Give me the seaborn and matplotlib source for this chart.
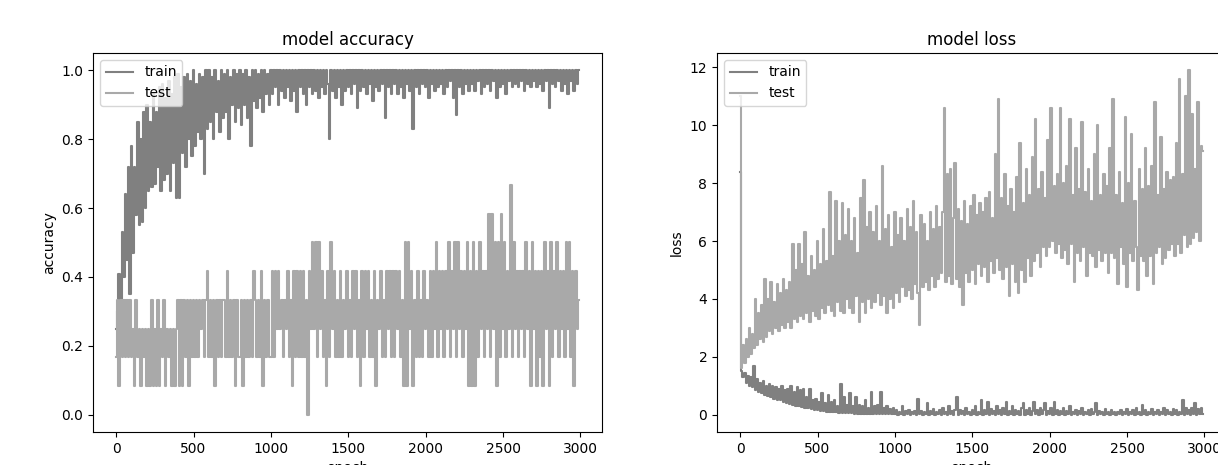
import numpy as np
import pandas as pd
import seaborn as sns
import matplotlib
matplotlib.use("Agg")
import matplotlib.pyplot as plt

epochs = list(range(0, 3000, 10))

# train accuracy in percent, one row per 100 epochs
train_acc_pct = [
    25, 30, 41, 33, 53, 40, 64, 45, 72, 35,
    78, 47, 72, 58, 85, 55, 80, 56, 88, 60,
    90, 65, 85, 66, 93, 67, 88, 72, 95, 65,
    96, 68, 92, 70, 97, 65, 93, 73, 98, 63,
    99, 63, 95, 76, 98, 72, 99, 80, 97, 75,
    100, 78, 96, 82, 99, 80, 98, 70, 100, 83,
    100, 85, 98, 80, 100, 88, 97, 82, 100, 86,
    99, 88, 100, 80, 98, 90, 100, 85, 99, 89,
    100, 84, 99, 90, 100, 86, 98, 78, 100, 91,
    100, 89, 99, 92, 100, 88, 100, 93, 99, 90,
    100, 93, 100, 95, 100, 90, 100, 94, 100, 92,
    100, 95, 100, 91, 100, 94, 100, 88, 100, 95,
    100, 93, 100, 90, 100, 95, 100, 93, 100, 94,
    100, 92, 100, 95, 100, 93, 100, 96, 80, 100,
    94, 100, 92, 100, 95, 100, 90, 100, 94, 100,
    95, 100, 93, 100, 96, 100, 89, 100, 94, 100,
    95, 100, 93, 100, 96, 100, 91, 100, 95, 100,
    94, 100, 96, 100, 86, 100, 95, 100, 93, 100,
    96, 100, 93, 100, 95, 100, 92, 100, 96, 100,
    94, 100, 83, 100, 95, 100, 93, 100, 96, 100,
    95, 100, 92, 100, 96, 100, 94, 100, 95, 100,
    96, 100, 93, 100, 95, 100, 97, 100, 92, 100,
    87, 100, 95, 100, 93, 100, 96, 100, 94, 100,
    96, 100, 94, 100, 97, 100, 93, 100, 95, 100,
    96, 100, 94, 100, 97, 100, 92, 100, 95, 100,
    96, 100, 93, 100, 97, 100, 95, 100, 96, 100,
    95, 100, 97, 100, 94, 100, 96, 100, 95, 100,
    97, 100, 95, 100, 96, 100, 94, 100, 97, 100,
    89, 100, 96, 100, 95, 100, 97, 100, 94, 100,
    96, 100, 93, 100, 97, 100, 94, 100, 96, 100,
]

# test accuracy: correct answers out of 12 test samples, one row per 100 epochs
test_size = 12
test_correct_rows = [
    "2414242424", "2314231323", "1314131413", "2413231313", "4141424142",
    "4242434245", "2424142424", "4252424142", "2414242425", "4242514242",
    "2525353424", "3524152525", "2524053636", "2635241526", "3524252435",
    "2425352415", "2535242514", "3524253525", "2535241616", "3514252425",
    "3425253625", "3525362536", "2635253615", "1615263525", "3727361627",
    "3625382635", "2535263516", "3515251635", "1625362535", "2636251534",
]
test_correct = [int(c) for row in test_correct_rows for c in row]

train_loss = [
    8.40, 1.50, 1.30, 1.45, 1.10, 1.35, 1.00, 1.30, 0.95, 1.70,
    0.85, 1.25, 0.80, 1.10, 0.75, 1.15, 0.70, 1.00, 0.65, 1.05,
    0.60, 1.00, 0.55, 0.95, 0.50, 0.90, 0.50, 1.00, 0.45, 0.85,
    0.40, 0.90, 0.38, 1.00, 0.35, 0.80, 0.32, 0.95, 0.30, 0.85,
    0.28, 0.90, 0.25, 0.60, 0.22, 0.90, 0.20, 0.50, 0.18, 0.55,
    0.15, 0.45, 0.14, 0.75, 0.12, 0.40, 0.11, 0.70, 0.10, 0.45,
    0.09, 0.50, 0.08, 0.30, 0.07, 1.05, 0.07, 0.60, 0.06, 0.35,
    0.05, 0.75, 0.05, 0.30, 0.04, 0.60, 0.04, 0.35, 0.04, 0.30,
    0.03, 0.50, 0.03, 0.25, 0.03, 0.80, 0.02, 0.30, 0.02, 0.35,
    0.02, 0.80, 0.02, 0.25, 0.02, 0.30, 0.01, 0.20, 0.01, 0.25,
    0.01, 0.15, 0.00, 0.10, 0.01, 0.30, 0.00, 0.12, 0.01, 0.15,
    0.00, 0.10, 0.01, 0.14, 0.00, 0.55, 0.01, 0.12, 0.00, 0.10,
    0.01, 0.40, 0.00, 0.12, 0.01, 0.20, 0.00, 0.10, 0.01, 0.15,
    0.00, 0.25, 0.01, 0.10, 0.00, 0.30, 0.01, 0.12, 0.00, 0.15,
    0.60, 0.00, 0.15, 0.01, 0.12, 0.00, 0.25, 0.01, 0.10, 0.00,
    0.15, 0.01, 0.30, 0.00, 0.10, 0.01, 0.50, 0.00, 0.15, 0.01,
    0.45, 0.00, 0.20, 0.01, 0.12, 0.00, 0.30, 0.01, 0.15, 0.00,
    0.25, 0.01, 0.45, 0.00, 0.12, 0.01, 0.30, 0.00, 0.15, 0.01,
    0.12, 0.00, 0.25, 0.40, 0.00, 0.15, 0.01, 0.25, 0.00, 0.12,
    0.45, 0.01, 0.15, 0.00, 0.25, 0.01, 0.15, 0.40, 0.00, 0.12,
    0.01, 0.25, 0.00, 0.45, 0.01, 0.15, 0.00, 0.12, 0.01, 0.25,
    0.00, 0.12, 0.01, 0.30, 0.00, 0.10, 0.01, 0.15, 0.00, 0.12,
    0.01, 0.25, 0.00, 0.10, 0.01, 0.15, 0.00, 0.20, 0.01, 0.10,
    0.40, 0.00, 0.12, 0.01, 0.10, 0.00, 0.20, 0.01, 0.08, 0.00,
    0.15, 0.01, 0.10, 0.00, 0.08, 0.01, 0.15, 0.00, 0.10, 0.01,
    0.20, 0.00, 0.10, 0.01, 0.15, 0.00, 0.25, 0.01, 0.10, 0.00,
    0.35, 0.01, 0.15, 0.00, 0.10, 0.01, 0.20, 0.00, 0.10, 0.01,
    0.15, 0.00, 0.10, 0.01, 0.25, 0.00, 0.15, 0.01, 0.10, 0.00,
    0.20, 0.01, 0.15, 0.00, 0.10, 0.01, 0.50, 0.00, 0.25, 0.01,
    0.15, 0.00, 0.25, 0.01, 0.40, 0.00, 0.20, 0.01, 0.25, 0.02,
]

test_loss = [
    11.0, 1.6, 2.4, 1.8, 2.6, 2.0, 3.0, 2.1, 2.8, 2.3,
    4.0, 2.4, 3.5, 2.6, 3.8, 2.5, 4.7, 2.7, 4.0, 2.9,
    4.6, 2.8, 3.9, 3.0, 4.5, 2.9, 4.2, 3.1, 4.7, 3.0,
    4.3, 3.2, 4.6, 3.0, 5.9, 3.3, 5.0, 3.2, 5.9, 3.4,
    5.2, 3.3, 6.3, 3.5, 4.8, 3.2, 5.5, 3.6, 5.0, 3.4,
    6.0, 3.3, 5.2, 3.7, 6.4, 3.5, 5.3, 3.8, 7.7, 3.6,
    5.5, 3.4, 7.4, 3.9, 6.0, 3.6, 7.3, 3.5, 6.2, 4.0,
    7.1, 3.7, 6.0, 3.5, 6.8, 4.1, 5.6, 3.2, 7.5, 3.9,
    8.1, 3.5, 6.5, 4.0, 7.0, 3.7, 6.3, 3.9, 7.2, 4.2,
    6.0, 3.8, 8.6, 4.1, 6.4, 3.5, 6.9, 4.0, 5.8, 3.7,
    7.0, 4.2, 6.2, 3.9, 6.8, 4.4, 6.0, 4.1, 7.1, 4.3,
    6.5, 4.0, 7.4, 4.5, 6.3, 4.2, 3.1, 6.9, 4.4, 6.6,
    4.6, 6.0, 4.3, 7.0, 4.8, 6.4, 4.4, 7.2, 4.7, 6.5,
    4.9, 7.0, 10.6, 4.6, 8.3, 4.8, 8.5, 4.5, 6.8, 8.7,
    4.7, 7.1, 4.4, 6.7, 3.8, 7.4, 4.9, 6.6, 4.6, 7.2,
    5.0, 7.6, 4.5, 6.9, 5.2, 7.3, 4.8, 7.0, 5.1, 7.5,
    4.6, 7.7, 5.3, 6.8, 4.9, 9.0, 5.4, 10.9, 5.0, 7.5,
    4.7, 8.3, 5.1, 7.2, 4.1, 7.8, 5.2, 7.0, 4.6, 8.2,
    4.2, 9.4, 5.0, 7.3, 4.6, 8.5, 5.4, 7.6, 4.8, 8.9,
    5.3, 10.2, 5.6, 7.8, 5.1, 8.4, 5.8, 7.5, 5.5, 9.5,
    5.8, 10.6, 6.0, 7.9, 5.6, 8.3, 5.9, 10.6, 5.4, 8.0,
    5.7, 8.6, 5.2, 10.2, 5.9, 7.6, 4.6, 9.2, 5.6, 7.8,
    5.3, 10.1, 5.8, 7.7, 4.8, 8.5, 5.6, 7.4, 5.5, 9.0,
    5.1, 10.0, 5.7, 7.6, 5.3, 8.3, 5.6, 7.9, 4.9, 9.2,
    5.6, 10.9, 5.4, 7.6, 4.5, 8.4, 5.8, 7.3, 5.2, 10.3,
    4.4, 8.0, 5.6, 9.7, 5.3, 7.4, 5.8, 4.3, 8.5, 5.5,
    7.8, 5.3, 9.2, 4.8, 7.9, 5.5, 8.6, 4.5, 10.8, 5.6,
    7.6, 5.8, 9.6, 5.2, 7.8, 5.4, 8.4, 5.7, 8.1, 5.9,
    8.2, 5.5, 9.4, 5.9, 11.6, 5.6, 8.3, 6.2, 11.0, 5.8,
    11.9, 5.9, 10.4, 6.1, 8.5, 6.3, 10.8, 6.0, 9.3, 9.1,
]

hist = pd.DataFrame({
    "epoch": epochs,
    "accuracy": np.array(train_acc_pct) / 100,
    "val_accuracy": np.array(test_correct) / test_size,
    "loss": train_loss,
    "val_loss": test_loss,
})

train_color = "gray"
test_color = "darkgray"
line_kw = dict(estimator=None, sort=False, lw=1.5, drawstyle="steps-mid")

fig = plt.figure(figsize=(12.18, 4.65), dpi=100)
ax1 = fig.add_axes([93 / 1218, 33 / 465, 509 / 1218, 379 / 465])
ax2 = fig.add_axes([717 / 1218, 33 / 465, 509 / 1218, 379 / 465])

# accuracy
sns.lineplot(data=hist, x="epoch", y="accuracy", ax=ax1, color=train_color,
             label="train", **line_kw)
sns.lineplot(data=hist, x="epoch", y="val_accuracy", ax=ax1, color=test_color,
             label="test", **line_kw)
ax1.set_title("model accuracy")
ax1.set_ylabel("accuracy")
ax1.set_xlabel("epoch")
ax1.legend(loc="upper left")

# loss
sns.lineplot(data=hist, x="epoch", y="loss", ax=ax2, color=train_color,
             label="train", **line_kw)
sns.lineplot(data=hist, x="epoch", y="val_loss", ax=ax2, color=test_color,
             label="test", **line_kw)
ax2.set_title("model loss")
ax2.set_ylabel("loss")
ax2.set_xlabel("epoch")
ax2.legend(loc="upper left")

fig.savefig("out.png", dpi=100)
